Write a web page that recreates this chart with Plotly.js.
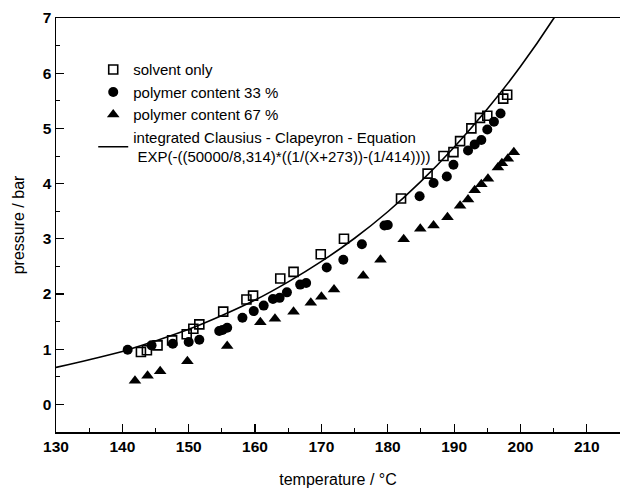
<!DOCTYPE html>
<html>
<head>
<meta charset="utf-8">
<script src="https://cdn.plot.ly/plotly-3.0.1.min.js"></script>
<style>html,body{margin:0;padding:0;background:#fff;}#chart{width:620px;height:488px;}</style>
</head>
<body>
<div id="chart"></div>
<script>
// solvent only (open squares)
var solventT = [142.8, 143.7, 145.3, 147.5, 149.7, 150.7, 151.6, 155.2, 158.7, 159.7, 163.8, 165.8, 169.9, 173.4, 182.0, 186.0, 188.4, 189.9, 190.9, 192.6, 193.9, 195.0, 197.4, 198.0];
var solventP = [0.95, 0.98, 1.07, 1.16, 1.27, 1.37, 1.45, 1.68, 1.90, 1.97, 2.28, 2.40, 2.72, 3.00, 3.73, 4.18, 4.50, 4.57, 4.77, 5.00, 5.19, 5.23, 5.54, 5.61];

// polymer content 33 % (filled circles)
var poly33T = [140.8, 144.4, 147.6, 150.0, 151.6, 154.6, 155.1, 155.8, 158.1, 159.8, 161.3, 162.7, 163.7, 164.8, 166.8, 167.7, 170.8, 173.3, 176.1, 179.5, 180.0, 184.8, 186.9, 188.9, 189.9, 192.1, 193.1, 194.1, 195.0, 196.0, 197.0];
var poly33P = [0.99, 1.07, 1.10, 1.13, 1.17, 1.33, 1.35, 1.39, 1.57, 1.69, 1.79, 1.91, 1.93, 2.03, 2.17, 2.20, 2.48, 2.62, 2.90, 3.24, 3.25, 3.77, 4.01, 4.13, 4.34, 4.60, 4.71, 4.79, 4.98, 5.12, 5.27];

// polymer content 67 % (filled triangles)
var poly67T = [141.9, 143.8, 145.7, 149.8, 155.8, 160.8, 163.0, 165.8, 168.4, 170.0, 171.9, 176.3, 178.9, 182.4, 184.9, 186.9, 189.0, 190.9, 192.1, 193.1, 194.1, 195.1, 196.6, 197.2, 198.1, 199.0];
var poly67P = [0.43, 0.52, 0.60, 0.78, 1.06, 1.49, 1.55, 1.68, 1.84, 1.95, 2.08, 2.33, 2.62, 2.99, 3.18, 3.24, 3.39, 3.60, 3.71, 3.88, 3.99, 4.09, 4.29, 4.37, 4.45, 4.57];

// integrated Clausius - Clapeyron curve
var curveT = [130, 135, 140, 145, 150, 155, 160, 165, 170, 175, 180, 185, 190, 195, 200, 205, 210];
var curveP = [0.67, 0.81, 0.96, 1.15, 1.36, 1.61, 1.89, 2.22, 2.59, 3.01, 3.49, 4.04, 4.66, 5.35, 6.12, 6.99, 7.97];

var xTickVals = [130, 140, 150, 160, 170, 180, 190, 200, 210];
var yTickVals = [0, 1, 2, 3, 4, 5, 6, 7];

var names = [
  'solvent only',
  'polymer content 33 %',
  'polymer content 67 %',
  'integrated Clausius - Clapeyron - Equation<br> EXP(-((50000/8,314)*((1/(X+273))-(1/414))))'
];

var traces = [
  {x: solventT, y: solventP, type: 'scatter', mode: 'markers', name: names[0],
   marker: {symbol: 'square-open', size: 9, color: '#000', line: {width: 1.6, color: '#000'}}},
  {x: poly33T, y: poly33P, type: 'scatter', mode: 'markers', name: names[1],
   marker: {symbol: 'circle', size: 10, color: '#000'}},
  {x: poly67T, y: poly67P, type: 'scatter', mode: 'markers', name: names[2],
   marker: {symbol: 'triangle-up', size: 11, color: '#000'}},
  {x: curveT, y: curveP, type: 'scatter', mode: 'lines', name: names[3],
   line: {color: '#000', width: 1.6, shape: 'spline'}}
];

var tickFont = {family: 'Liberation Sans, Arial, sans-serif', size: 15.5, color: '#000', weight: 'bold'};
var titleFont = {family: 'Liberation Sans, Arial, sans-serif', size: 16, color: '#000'};

var layout = {
  width: 620, height: 488,
  margin: {l: 56, r: 0, t: 18, b: 56},
  paper_bgcolor: '#fff', plot_bgcolor: '#fff',
  showlegend: true,
  legend: {
    x: 0.066, y: 0.915, xanchor: 'left', yanchor: 'top',
    bgcolor: 'rgba(0,0,0,0)', borderwidth: 0,
    font: {family: 'Liberation Sans, Arial, sans-serif', size: 15, color: '#000'},
    tracegroupgap: 0, itemwidth: 30
  },
  xaxis: {
    range: [130, 215], tickvals: xTickVals, ticktext: xTickVals.map(String),
    ticks: 'inside', ticklen: 8, tickwidth: 1.2, tickcolor: '#000',
    minor: {ticks: 'inside', dtick: 5, ticklen: 4, tickwidth: 1, tickcolor: '#000'},
    showline: true, linecolor: '#000', linewidth: 1.5, mirror: true,
    showgrid: false, zeroline: false,
    tickfont: tickFont,
    title: {text: 'temperature / °C', font: titleFont, standoff: 22}
  },
  yaxis: {
    range: [-0.5, 7], tickvals: yTickVals, ticktext: yTickVals.map(String),
    ticks: 'inside', ticklen: 8, tickwidth: 1.2, tickcolor: '#000',
    minor: {ticks: 'inside', dtick: 0.5, ticklen: 4, tickwidth: 1, tickcolor: '#000'},
    showline: true, linecolor: '#000', linewidth: 1.5, mirror: false,
    showgrid: false, zeroline: false,
    tickfont: tickFont,
    title: {text: 'pressure / bar', font: titleFont, standoff: 14}
  }
};

Plotly.newPlot('chart', traces, layout, {displayModeBar: false, staticPlot: true});
</script>
</body>
</html>
